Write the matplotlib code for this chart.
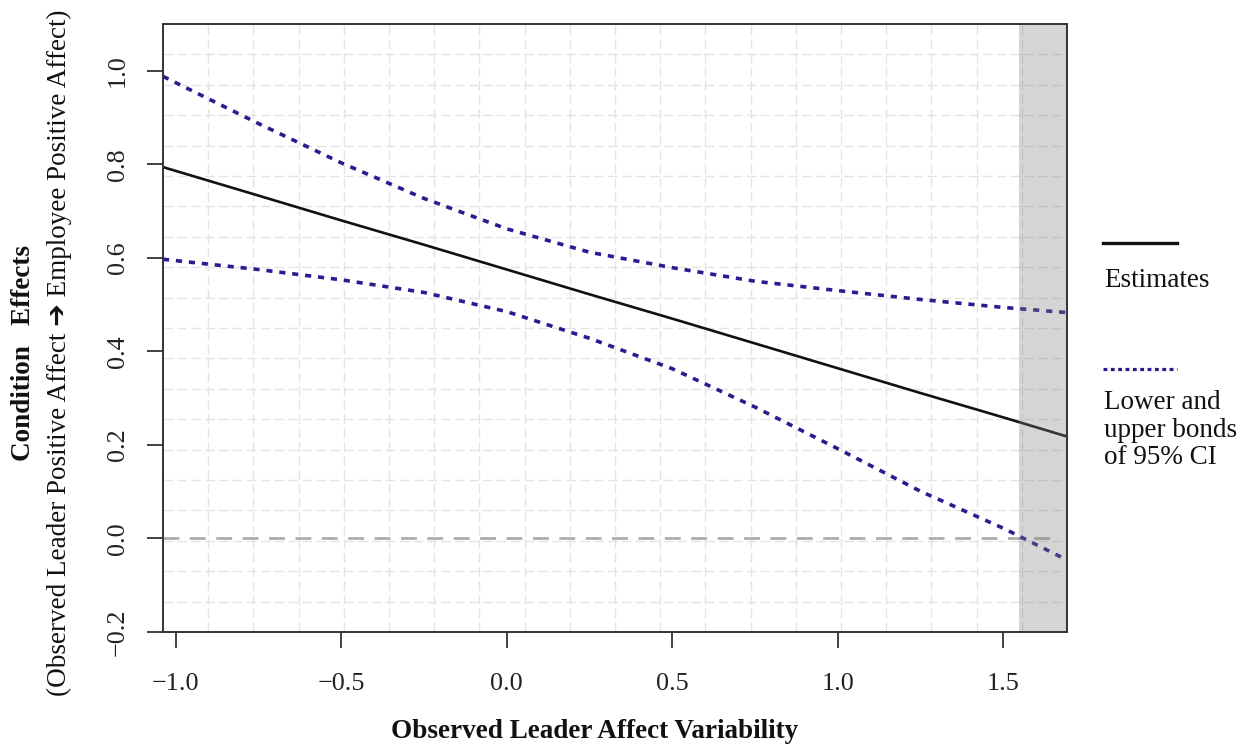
import matplotlib
matplotlib.use("Agg")
import matplotlib.pyplot as plt
from matplotlib.lines import Line2D
import numpy as np

plt.rcParams['font.family'] = ['Liberation Serif', 'DejaVu Serif', 'DejaVu Sans']
plt.rcParams['axes.unicode_minus'] = True

# ---- data ----
x_vals = [-1.039, -0.75, -0.5, -0.25, 0.0, 0.25, 0.5, 0.75, 1.0, 1.25, 1.5, 1.693]
estimate = [0.794, 0.733, 0.680, 0.628, 0.575, 0.522, 0.470, 0.417, 0.364, 0.311, 0.259, 0.218]
upper_ci = [0.988, 0.887, 0.803, 0.727, 0.662, 0.612, 0.579, 0.550, 0.530, 0.511, 0.494, 0.483]
lower_ci = [0.597, 0.575, 0.553, 0.526, 0.485, 0.428, 0.363, 0.281, 0.192, 0.101, 0.022, -0.046]
nonsig_start = 1.548          # lower CI crosses zero here
x_ticks = [-1.0, -0.5, 0.0, 0.5, 1.0, 1.5]
y_ticks = [-0.2, 0.0, 0.2, 0.4, 0.6, 0.8, 1.0]
y_limits = (-0.2, 1.1)

xlabel = "Observed Leader Affect Variability"
ylabel_bold = "Condition   Effects"
ylabel_line2 = "(Observed Leader Positive Affect \u2794 Employee Positive Affect)"
legend_est = "Estimates"
legend_ci = "Lower and\nupper bonds\nof 95% CI"

W, H = 1241, 746
fig = plt.figure(figsize=(W / 100, H / 100), dpi=100)
ax = fig.add_axes([163 / W, 1 - 632 / H, (1067 - 163) / W, (632 - 24) / H])

xlim = (min(x_vals), max(x_vals))
ax.set_xlim(*xlim)
ax.set_ylim(*y_limits)

# 20 x 20 dashed grid spanning the panel
for gx in np.linspace(xlim[0], xlim[1], 21)[1:-1]:
    ax.axvline(gx, color='#e4e4e4', lw=1.0, linestyle=(0, (7, 3)), zorder=0)
for gy in np.linspace(y_limits[0], y_limits[1], 21)[1:-1]:
    ax.axhline(gy, color='#e4e4e4', lw=1.0, linestyle=(0, (7, 3)), zorder=0)

# zero reference line
ax.axhline(0.0, xmax=0.985, color='#a9a9a9', lw=1.9, linestyle=(0, (6, 4)), zorder=1)

# lines
ax.plot(x_vals, estimate, color='#111111', lw=1.9, zorder=3)
ax.plot(x_vals, upper_ci, color='#2b1b8f', lw=2.6, linestyle=(0, (1.7, 1.9)), zorder=3)
ax.plot(x_vals, lower_ci, color='#2b1b8f', lw=2.6, linestyle=(0, (1.7, 1.9)), zorder=3)

# non-significance region
ax.axvspan(nonsig_start, xlim[1], color='#808080', alpha=0.33, lw=0, zorder=4)

# axes styling
for s in ax.spines.values():
    s.set_linewidth(1.4)
    s.set_color('#333333')
    s.set_zorder(6)
ax.set_xticks(x_ticks)
ax.set_yticks(y_ticks)
ax.set_xticklabels([f"{v:.1f}".replace('-', '\u2212') for v in x_ticks])
ax.set_yticklabels([f"{v:.1f}".replace('-', '\u2212') for v in y_ticks],
                   rotation=90, va='center')
ax.tick_params(axis='both', direction='out', length=11.5, width=1.3,
               color='#333333', labelsize=18.8, labelcolor='#222222')
ax.tick_params(axis='x', pad=18)
ax.tick_params(axis='y', pad=13)

# axis labels
fig.text(595 / W, 1 - 732 / H, xlabel, ha='center', va='center',
         fontsize=19.5, fontweight='bold', color='#111111')
fig.text(24 / W, 1 - 353 / H, ylabel_bold, ha='center', va='center', rotation=90,
         fontsize=19.5, fontweight='bold', color='#111111')
fig.text(59 / W, 1 - 353 / H, ylabel_line2, ha='center', va='center', rotation=90,
         fontsize=19.5, color='#111111')

# manual legend
fig.add_artist(Line2D([1103 / W, 1177 / W], [1 - 243 / H, 1 - 243 / H],
                      color='#111111', lw=2.4, transform=fig.transFigure))
fig.text(1104 / W, 1 - 281 / H, legend_est, ha='left', va='center',
         fontsize=19.5, color='#111111')
fig.add_artist(Line2D([1103 / W, 1177 / W], [1 - 369 / H, 1 - 369 / H],
                      color='#2b1b8f', lw=2.3, linestyle=(0, (1.2, 1.1)),
                      transform=fig.transFigure))
fig.text(1104 / W, 1 - 430 / H, legend_ci, ha='left', va='center',
         fontsize=19.5, color='#111111', linespacing=1.13)

fig.savefig("out.png", dpi=100)
